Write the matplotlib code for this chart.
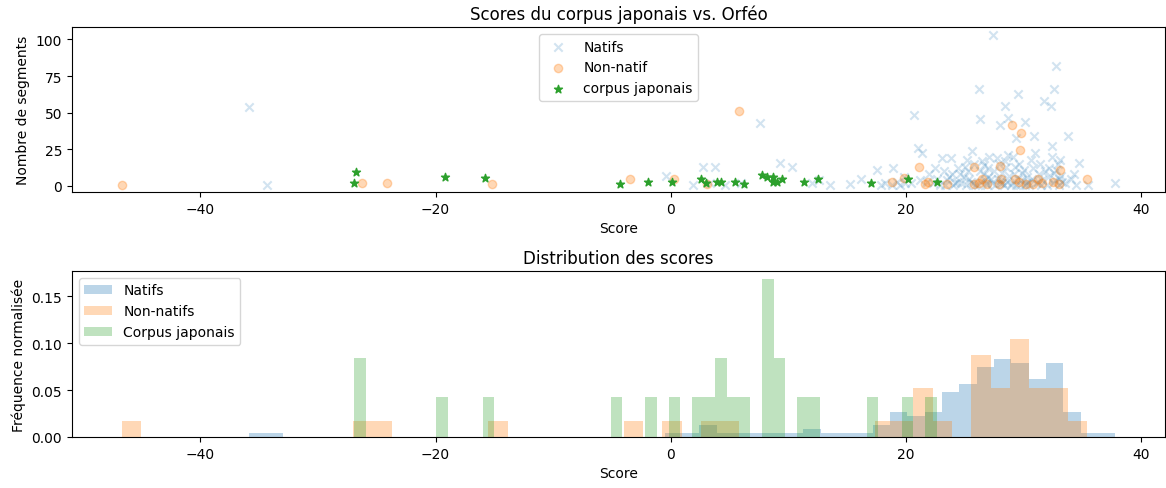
import numpy as np
import matplotlib.pyplot as plt

# scores / nombre de segments
natifs_scores = [
    -35.9, -34.3,
    -0.4, 1.9, 2.7, 3.8, 3.3, 4.6, 6.0, 7.6, 9.3, 10.3, 12.0, 12.6, 13.5, 15.2, 16.2,
    17.5, 18.2, 17.9,
    18.9, 19.2, 19.5, 19.8, 18.8, 19.9,
    20.7, 21.0, 21.4, 20.4, 21.2,
    22.0, 22.3, 22.6, 22.9, 21.8, 22.5,
    23.1, 23.8, 23.3, 23.5, 23.9, 24.2, 24.4, 23.7, 24.0, 23.2, 24.3,
    25.6, 24.7, 24.9, 25.1, 25.3, 25.5, 25.8, 25.0, 24.6, 25.9, 25.4, 25.7, 25.2,
    26.2, 26.3, 27.4, 26.1, 26.4, 26.6, 26.8, 27.0, 27.2, 26.5, 26.9, 27.1, 26.7, 27.3, 26.3, 27.0, 26.6,
    28.4, 28.0, 28.7, 27.7, 28.7, 27.6, 27.8, 28.0, 28.2, 28.3, 28.5, 28.6, 28.8, 27.9, 28.1, 28.9, 27.5, 28.4, 28.2,
    29.5, 29.4, 30.1, 29.0, 29.2, 29.4, 29.6, 29.8, 30.0, 30.2, 30.3, 29.1, 29.7, 29.9, 30.4, 29.3, 29.5, 30.1,
    31.7, 30.9, 31.0, 30.5, 30.7, 30.8, 31.1, 31.3, 31.4, 31.5, 31.6, 31.8, 30.6, 31.2,
    32.8, 32.6, 32.3, 32.4, 33.1, 32.0, 32.1, 32.2, 32.5, 32.6, 32.7, 32.9, 33.0, 33.2, 33.3, 32.4, 32.8, 33.0,
    33.8, 34.7, 34.3, 33.5, 34.0, 34.5,
    35.5, 37.8,
]
natifs_segments = [
    54, 1,
    7, 1, 13, 13, 2, 1, 2, 43, 16, 13, 2, 4, 1, 1.5, 5,
    11, 2, 1,
    12, 3, 1, 6, 1, 2,
    48.6, 26, 22.5, 2, 4,
    8, 2, 5, 1, 3, 12,
    19, 19, 1, 4, 8, 2, 12, 6, 1, 10, 3,
    24, 2, 6, 1, 10, 3, 15, 13, 8, 1, 5, 2, 18,
    66, 45.7, 103.4, 1, 3, 8, 2, 12, 5, 17, 1, 20, 4, 2, 10, 6, 14,
    54.3, 41.8, 46.5, 19.4, 21, 1, 5, 2, 9, 1, 13, 3, 7, 15, 4, 1, 10, 17, 2,
    62.8, 33, 43.6, 2, 8, 1, 15, 4, 11, 2, 6, 20, 1, 9, 3, 13, 5, 1,
    58.2, 34.2, 22.4, 1, 5, 12, 2, 8, 15, 1, 4, 10, 18, 3,
    82.2, 66.2, 54.3, 27, 17.8, 1, 6, 12, 2, 9, 4, 15, 1, 7, 3, 20, 11, 5,
    34.2, 15.5, 8, 2, 5, 1,
    1, 1.8,
]

non_natifs_scores = [
    -46.7, -26.3, -24.1, -15.2, -3.5, 0.3, 3.1, 5.8,
    18.85, 19.85, 21.15, 21.6, 21.9, 23.5,
    25.75, 25.8, 26.5, 26.2, 26.9,
    27.9, 28.0, 28.1,
    29.0, 29.8, 29.7, 29.6, 30.2, 29.3,
    30.8, 31.2, 31.6,
    33.0, 33.1, 32.5,
    35.4,
]
non_natifs_segments = [
    1, 2, 2, 1.2, 4.6, 4.6, 1.2, 51.4,
    3, 5.3, 13.2, 1.2, 3, 1.2,
    13.2, 1.2, 4.8, 2, 1.5,
    1.2, 13.5, 4.8,
    41.3, 36, 24.7, 2.5, 1.5, 5,
    1.5, 4.5, 2,
    1.5, 11, 3,
    4.8,
]

japonais_scores = [
    -26.8, -26.9, -19.2, -15.8, -4.3, -1.9, 0.1, 2.6, 3.0, 3.9, 4.3, 5.45,
    6.2, 7.8, 8.2, 8.7, 8.7, 9.0, 9.5, 11.3, 12.5, 17.0, 20.2, 22.6,
]
japonais_segments = [
    9.8, 2.3, 6, 5.3, 1.5, 3, 3, 5, 1.8, 3, 3, 3,
    1.5, 7.5, 6, 6.4, 3, 2.7, 4.6, 2.7, 4.6, 1.8, 4.6, 3,
]

fig, (ax1, ax2) = plt.subplots(2, 1, figsize=(11.66, 4.89), dpi=100)

ax1.scatter(natifs_scores, natifs_segments, marker='x', alpha=0.2, label='Natifs')
ax1.scatter(non_natifs_scores, non_natifs_segments, marker='o', alpha=0.3, label='Non-natif')
ax1.scatter(japonais_scores, japonais_segments, marker='*', label='corpus japonais')
ax1.set_title('Scores du corpus japonais vs. Orféo')
ax1.set_xlabel('Score')
ax1.set_ylabel('Nombre de segments')
ax1.legend(loc='upper center')

ax2.hist(natifs_scores, bins=50, density=True, alpha=0.3, label='Natifs')
ax2.hist(non_natifs_scores, bins=50, density=True, alpha=0.3, label='Non-natifs')
ax2.hist(japonais_scores, bins=50, density=True, alpha=0.3, label='Corpus japonais')
ax2.set_title('Distribution des scores')
ax2.set_xlabel('Score')
ax2.set_ylabel('Fréquence normalisée')
ax2.legend(loc='upper left')

# placement des axes comme sur la figure d'origine
ax1.set_position([0.0617, 0.6053, 0.9374, 0.3374])
ax2.set_position([0.0617, 0.1043, 0.9374, 0.3395])

plt.savefig('out.png', dpi=100)
